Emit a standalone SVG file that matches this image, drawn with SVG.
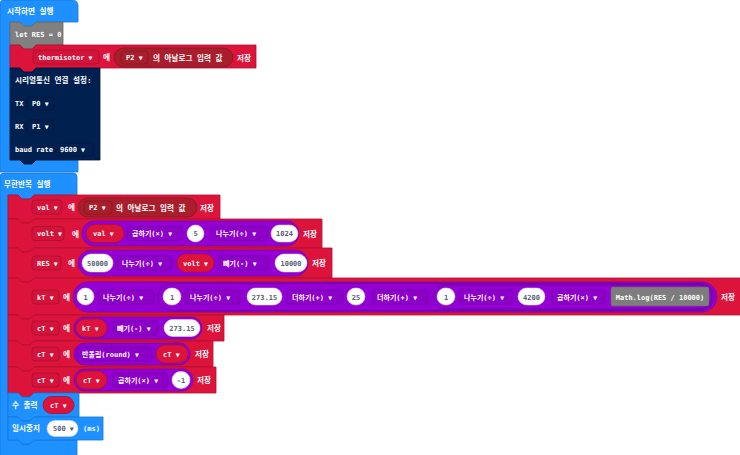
<svg xmlns="http://www.w3.org/2000/svg" width="740" height="455" viewBox="0 0 740 455">
<style>
.t{font-family:"DejaVu Sans Mono","Noto Sans CJK KR",monospace;font-size:7px;font-weight:bold;fill:#fff}
.k{font-size:7.6px}
.dk{fill:#575E75}
.m{text-anchor:middle}
.a{font-size:6.5px}
.blue{fill:#1E90FF;stroke:#1877d6;stroke-width:0.8}
.red{fill:#DC143C;stroke:#b01030;stroke-width:0.8}
.navy{fill:#002050;stroke:#001436;stroke-width:0.8}
.gray{fill:#808080;stroke:#666;stroke-width:0.8}
.ddr{fill:#D3133A;stroke:#A80F2E;stroke-width:0.8}
.ddn{fill:#002050;stroke:#00143a;stroke-width:0.8}
.ddp{fill:#8C00C8;stroke:#7500A8;stroke-width:0.8}
.pin{fill:#A91E2C;stroke:#861620;stroke-width:0.8}
.pur{fill:#9400D3;stroke:#7600a8;stroke-width:0.8}
.pur2{fill:#9400D3;stroke:#6e009e;stroke-width:1}
.vp{fill:#DC143C;stroke:#ad0f2f;stroke-width:0.8}
.wp{fill:#fff;stroke:#ddd;stroke-width:0.5}
.js{fill:#7d7d7d;stroke:#666;stroke-width:0.6}
</style>
<g id="connectors"/>

<g id="start">
<path class="blue" d="M0,4 Q0,0 4,0 H72 Q78,0 78,6 V22 H36 l-4,4 h-8 l-4,-4 H10 V160 H20 l4,4 h8 l4,-4 H78 V172 H0 Z"/>
<text class="t k" x="7" y="14">시작하면 실행</text>
</g>

<g id="let-res">
<path class="gray" d="M10,22 h10 l4,4 h8 l4,-4 h27 v23 h-27 l-4,4 h-8 l-4,-4 h-10 z"/>
<text class="t" x="15" y="37">let RES = 0</text>
</g>

<g id="set-thermisotor">
<path class="red" d="M10,45 h10 l4,4 h8 l4,-4 h220 v23 h-220 l-4,4 h-8 l-4,-4 h-10 z"/>
<rect class="ddr" x="33" y="50" width="66" height="14" rx="3"/>
<text class="t" x="38" y="59.5">thermisotor <tspan class="a">▼</tspan></text>
<text class="t k" x="103" y="60">에</text>
<rect class="pin" x="114" y="48" width="119" height="19" rx="9.5"/>
<rect class="pin" x="121" y="51" width="27" height="13" rx="3"/>
<text class="t" x="126" y="60">P2 <tspan class="a">▼</tspan></text>
<text class="t k" x="153" y="60.5">의 아날로그 입력 값</text>
<text class="t k" x="237" y="60.5">저장</text>
</g>

<g id="serial-redirect">
<path class="navy" d="M10,68 h10 l4,4 h8 l4,-4 h64 v92 h-64 l-4,4 h-8 l-4,-4 h-10 z"/>
<text class="t k" x="15" y="83">시리얼통신 연결 설정:</text>
<text class="t" x="15" y="106">TX</text>
<rect class="ddn" x="27" y="97" width="27" height="13" rx="3"/>
<text class="t" x="32" y="106">P0 <tspan class="a">▼</tspan></text>
<text class="t" x="15" y="129">RX</text>
<rect class="ddn" x="27" y="120" width="27" height="13" rx="3"/>
<text class="t" x="32" y="129">P1 <tspan class="a">▼</tspan></text>
<text class="t" x="15" y="152">baud rate</text>
<rect class="ddn" x="56" y="143" width="37" height="13" rx="3"/>
<text class="t" x="60" y="152">9600 <tspan class="a">▼</tspan></text>
</g>

<g id="forever">
<path class="blue" d="M0,177 Q0,173 4,173 H73 Q77,173 77,177 V195 H34 l-4,4 h-8 l-4,-4 H8 V440 H18 l4,4 h8 l4,-4 H77 V458 H0 Z"/>
<text class="t k" x="4" y="187">무한반복 실행</text>
</g>

<g id="set-val">
<path class="red" d="M8,195 h10 l4,4 h8 l4,-4 h186 v24 h-186 l-4,4 h-8 l-4,-4 h-10 z"/>
<rect class="ddr" x="32" y="200" width="30" height="14" rx="3"/>
<text class="t" x="37" y="209.5">val <tspan class="a">▼</tspan></text>
<text class="t k" x="68" y="210">에</text>
<rect class="pin" x="78" y="198" width="119" height="19" rx="9.5"/>
<rect class="pin" x="84" y="201" width="28" height="13" rx="3"/>
<text class="t" x="89" y="210">P2 <tspan class="a">▼</tspan></text>
<text class="t k" x="116" y="210.5">의 아날로그 입력 값</text>
<text class="t k" x="200" y="210.5">저장</text>
</g>

<g id="set-volt">
<path class="red" d="M8,219 h10 l4,4 h8 l4,-4 h288 v29 h-288 l-4,4 h-8 l-4,-4 h-10 z"/>
<rect class="ddr" x="32" y="226.5" width="32" height="14" rx="3"/>
<text class="t" x="37" y="236">volt <tspan class="a">▼</tspan></text>
<text class="t k" x="72" y="236.5">에</text>
<rect class="pur" x="82" y="221" width="217" height="25" rx="12.5"/>
<rect class="vp" x="86" y="224.5" width="38" height="18" rx="9"/>
<text class="t" x="93" y="236">val <tspan class="a">▼</tspan></text>
<rect class="ddp" x="127" y="226.5" width="55" height="14" rx="3"/>
<text class="t" x="132" y="236">곱하기(×) <tspan class="a">▼</tspan></text>
<rect class="wp" x="187" y="225" width="17" height="17" rx="8.5"/>
<text class="t dk m" x="195.5" y="236">5</text>
<rect class="ddp" x="211" y="226.5" width="56" height="14" rx="3"/>
<text class="t" x="216" y="236">나누기(÷) <tspan class="a">▼</tspan></text>
<rect class="wp" x="271" y="225" width="27" height="17" rx="8.5"/>
<text class="t dk m" x="284.5" y="236">1024</text>
<text class="t k" x="303" y="236.5">저장</text>
</g>

<g id="set-res">
<path class="red" d="M8,248 h10 l4,4 h8 l4,-4 h298 v30 h-298 l-4,4 h-8 l-4,-4 h-10 z"/>
<rect class="ddr" x="32" y="256" width="29" height="14" rx="3"/>
<text class="t" x="37" y="265.5">RES <tspan class="a">▼</tspan></text>
<text class="t k" x="68" y="266">에</text>
<rect class="pur" x="78" y="250" width="230" height="26" rx="13"/>
<rect class="wp" x="82" y="254" width="31" height="18" rx="9"/>
<text class="t dk m" x="97.5" y="265.5">50000</text>
<rect class="ddp" x="117" y="256" width="55" height="14" rx="3"/>
<text class="t" x="122" y="265.5">나누기(÷) <tspan class="a">▼</tspan></text>
<rect class="vp" x="177" y="254" width="37" height="18" rx="9"/>
<text class="t" x="183" y="265.5">volt <tspan class="a">▼</tspan></text>
<rect class="ddp" x="218" y="256" width="50" height="14" rx="3"/>
<text class="t" x="223" y="265.5">빼기(-) <tspan class="a">▼</tspan></text>
<rect class="wp" x="275" y="254" width="32" height="18" rx="9"/>
<text class="t dk m" x="291" y="265.5">10000</text>
<text class="t k" x="312" y="266">저장</text>
</g>

<g id="set-kt">
<path class="red" d="M8,278 h10 l4,4 h8 l4,-4 h709 v37 h-709 l-4,4 h-8 l-4,-4 h-10 z"/>
<rect class="ddr" x="32" y="290" width="27" height="14" rx="3"/>
<text class="t" x="37" y="299.5">kT <tspan class="a">▼</tspan></text>
<text class="t k" x="63" y="300">에</text>
<rect class="pur" x="73" y="282" width="644" height="30" rx="15"/>
<rect class="wp" x="77" y="288" width="17" height="17" rx="8.5"/>
<text class="t dk m" x="85.5" y="299.5">1</text>
<rect class="ddp" x="98" y="290" width="56" height="14" rx="3"/>
<text class="t" x="103" y="299.5">나누기(÷) <tspan class="a">▼</tspan></text>
<rect class="pur2" x="158" y="283.5" width="556" height="27" rx="13.5"/>
<rect class="wp" x="163" y="288" width="18" height="17" rx="8.5"/>
<text class="t dk m" x="172" y="299.5">1</text>
<rect class="ddp" x="185" y="290" width="55" height="14" rx="3"/>
<text class="t" x="190" y="299.5">나누기(÷) <tspan class="a">▼</tspan></text>
<rect class="wp" x="247" y="288" width="35" height="17" rx="8.5"/>
<text class="t dk m" x="264.5" y="299.5">273.15</text>
<rect class="ddp" x="287" y="290" width="56" height="14" rx="3"/>
<text class="t" x="292" y="299.5">더하기(+) <tspan class="a">▼</tspan></text>
<rect class="wp" x="347" y="288" width="18" height="17" rx="8.5"/>
<text class="t dk m" x="356" y="299.5">25</text>
<rect class="ddp" x="372" y="290" width="56" height="14" rx="3"/>
<text class="t" x="377" y="299.5">더하기(+) <tspan class="a">▼</tspan></text>
<rect class="pur2" x="433" y="285" width="279" height="24" rx="12"/>
<rect class="wp" x="437" y="288" width="18" height="17" rx="8.5"/>
<text class="t dk m" x="446" y="299.5">1</text>
<rect class="ddp" x="459" y="290" width="54" height="14" rx="3"/>
<text class="t" x="464" y="299.5">나누기(÷) <tspan class="a">▼</tspan></text>
<rect class="wp" x="518" y="288" width="27" height="17" rx="8.5"/>
<text class="t dk m" x="531.5" y="299.5">4200</text>
<rect class="ddp" x="552" y="290" width="53" height="14" rx="3"/>
<text class="t" x="557" y="299.5">곱하기(×) <tspan class="a">▼</tspan></text>
<rect class="js" x="611" y="287" width="98" height="19" rx="2"/>
<text class="t m" x="660" y="299.5">Math.log(RES / 10000)</text>
<text class="t k" x="721" y="300">저장</text>
</g>

<g id="set-ct-1">
<path class="red" d="M8,315 h10 l4,4 h8 l4,-4 h190 v26 h-190 l-4,4 h-8 l-4,-4 h-10 z"/>
<rect class="ddr" x="32" y="321" width="27" height="14" rx="3"/>
<text class="t" x="37" y="330.5">cT <tspan class="a">▼</tspan></text>
<text class="t k" x="63" y="331">에</text>
<rect class="pur" x="74" y="317" width="128" height="22" rx="11"/>
<rect class="vp" x="76" y="319" width="31" height="18" rx="9"/>
<text class="t" x="82" y="330.5">kT <tspan class="a">▼</tspan></text>
<rect class="ddp" x="113" y="321" width="45" height="14" rx="3"/>
<text class="t" x="117" y="330.5">빼기(-) <tspan class="a">▼</tspan></text>
<rect class="wp" x="164" y="319.5" width="36" height="17" rx="8.5"/>
<text class="t dk m" x="182" y="330.5">273.15</text>
<text class="t k" x="207" y="331">저장</text>
</g>

<g id="set-ct-2">
<path class="red" d="M8,341 h10 l4,4 h8 l4,-4 h179 v26 h-179 l-4,4 h-8 l-4,-4 h-10 z"/>
<rect class="ddr" x="32" y="347" width="27" height="14" rx="3"/>
<text class="t" x="37" y="356.5">cT <tspan class="a">▼</tspan></text>
<text class="t k" x="63" y="357">에</text>
<rect class="pur" x="74" y="343" width="116" height="22" rx="11"/>
<rect class="ddp" x="77" y="347" width="75" height="14" rx="3"/>
<text class="t" x="82" y="356.5">반올림(round) <tspan class="a">▼</tspan></text>
<rect class="vp" x="156" y="345" width="32" height="18" rx="9"/>
<text class="t" x="163" y="356.5">cT <tspan class="a">▼</tspan></text>
<text class="t k" x="195" y="357">저장</text>
</g>

<g id="set-ct-3">
<path class="red" d="M8,367 h10 l4,4 h8 l4,-4 h182 v26 h-182 l-4,4 h-8 l-4,-4 h-10 z"/>
<rect class="ddr" x="32" y="373" width="27" height="14" rx="3"/>
<text class="t" x="37" y="382.5">cT <tspan class="a">▼</tspan></text>
<text class="t k" x="63" y="383">에</text>
<rect class="pur" x="74" y="369" width="119" height="22" rx="11"/>
<rect class="vp" x="76" y="371" width="31" height="18" rx="9"/>
<text class="t" x="83" y="382.5">cT <tspan class="a">▼</tspan></text>
<rect class="ddp" x="113" y="373" width="55" height="14" rx="3"/>
<text class="t" x="118" y="382.5">곱하기(×) <tspan class="a">▼</tspan></text>
<rect class="wp" x="172" y="371.5" width="18" height="17" rx="8.5"/>
<text class="t dk m" x="181" y="382.5">-1</text>
<text class="t k" x="197" y="383">저장</text>
</g>

<g id="show-number">
<path class="blue" d="M8,393 h10 l4,4 h8 l4,-4 h45 v24 h-45 l-4,4 h-8 l-4,-4 h-10 z"/>
<text class="t k" x="12" y="408">수 출력</text>
<rect class="vp" x="43" y="396.5" width="31" height="17" rx="8.5"/>
<text class="t" x="50" y="408">cT <tspan class="a">▼</tspan></text>
</g>

<g id="pause">
<path class="blue" d="M8,417 h10 l4,4 h8 l4,-4 h69 v23 h-69 l-4,4 h-8 l-4,-4 h-10 z"/>
<text class="t k" x="12" y="431">일시중지</text>
<rect class="wp" x="47" y="420.5" width="31" height="16" rx="8"/>
<text class="t dk" x="53" y="431">500 <tspan class="a">▼</tspan></text>
<text class="t" x="83" y="431">(ms)</text>
</g>
</svg>
